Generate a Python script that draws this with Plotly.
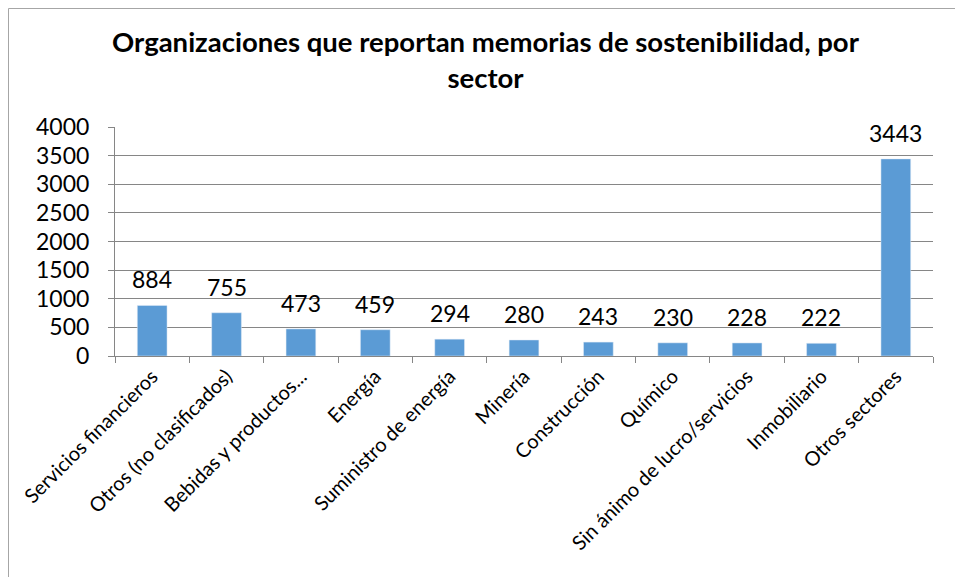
import plotly.graph_objects as go

sectores = [
    "Servicios financieros",
    "Otros (no clasificados)",
    "Bebidas y productos...",
    "Energía",
    "Suministro de energía",
    "Minería",
    "Construcción",
    "Químico",
    "Sin ánimo de lucro/servicios",
    "Inmobiliario",
    "Otros sectores",
]
organizaciones = [884, 755, 473, 459, 294, 280, 243, 230, 228, 222, 3443]

# la página deja 8px de margen en el body, así que el gráfico es algo menor
W, H = 955, 569
ML, MR, MT, MB = 107, 30, 119, 221

fig = go.Figure(
    go.Bar(
        x=sectores,
        y=organizaciones,
        marker={"color": "#5b9bd5"},
    )
)

# etiquetas de datos: algo más separadas de la barra que el texto "outside"
for sector, valor in zip(sectores, organizaciones):
    fig.add_annotation(
        x=sector,
        y=valor,
        text=str(valor),
        showarrow=False,
        yanchor="bottom",
        yshift=10,
        font={"size": 23, "color": "#000000"},
    )

# borde exterior del gráfico (en coordenadas paper)
pw = W - ML - MR
ph = H - MT - MB
fig.add_shape(
    type="rect",
    xref="paper",
    yref="paper",
    x0=(0.5 - ML) / pw,
    x1=(W - 2.5 - ML) / pw,
    y0=(MB - (H - 2.5)) / ph,
    y1=(H - 0.5 - MB) / ph,
    line={"color": "#a6a6a6", "width": 1},
    layer="below",
)

fig.update_layout(
    width=W,
    height=H,
    margin={"l": ML, "r": MR, "t": MT, "b": MB, "autoexpand": False},
    paper_bgcolor="white",
    plot_bgcolor="white",
    font={"family": "Lato, Open Sans, sans-serif", "color": "#000000"},
    title={
        "text": "<b>Organizaciones que reportan memorias de sostenibilidad, por<br>sector</b>",
        "x": 0.5,
        "xanchor": "center",
        "y": 0.923,
        "yanchor": "middle",
        "font": {"size": 27.5},
    },
    bargap=0.6,
    showlegend=False,
)
fig.update_xaxes(
    tickangle=-45,
    tickfont={"size": 20},
    showline=True,
    linecolor="#868686",
    ticks="outside",
    tickson="boundaries",
    ticklen=6,
    tickcolor="#868686",
    showgrid=False,
    automargin=False,
)
fig.update_yaxes(
    range=[0, 4000],
    dtick=500,
    tickfont={"size": 23},
    showline=True,
    linecolor="#868686",
    ticks="outside",
    ticklen=6,
    tickcolor="#868686",
    ticklabelstandoff=14,
    showgrid=True,
    gridcolor="#868686",
    zeroline=False,
    automargin=False,
)

fig.write_html("out.html")
